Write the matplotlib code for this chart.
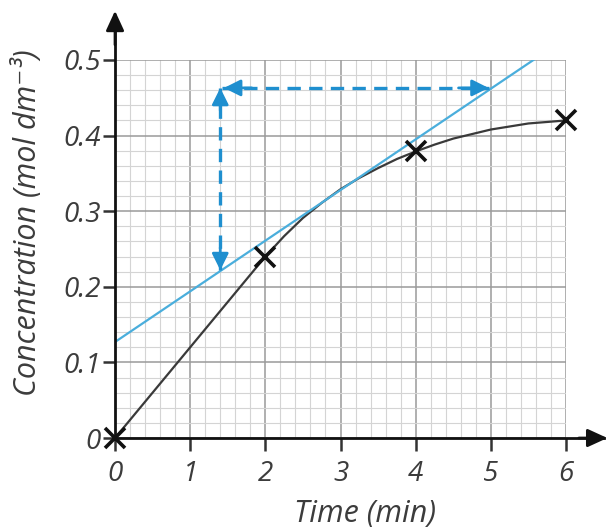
import matplotlib
matplotlib.use('Agg')
import matplotlib.pyplot as plt
import numpy as np

# Measured points (crosses) and the hand-drawn curve through them
time_pts = [0, 2, 4, 6]
conc_pts = [0, 0.24, 0.38, 0.42]
curve_t = [0, 0.5, 1, 1.5, 1.75, 2, 2.25, 2.5, 2.75, 3, 3.25, 3.5, 3.75, 4,
           4.25, 4.5, 4.75, 5, 5.25, 5.5, 5.75, 6]
curve_c = [0, 0.06, 0.12, 0.18, 0.21, 0.24, 0.267, 0.291, 0.311, 0.329, 0.344,
           0.357, 0.369, 0.379, 0.388, 0.396, 0.402, 0.408, 0.412, 0.416, 0.418, 0.420]
# Tangent at t = 3 min
tangent_t = [0, 6]
tangent_c = [0.127, 0.529]
# Dashed construction lines (rise / run)
rise_t = [1.4, 1.4]
rise_c = [0.222, 0.463]
run_t = [1.42, 4.97]
run_c = [0.463, 0.463]

x_ticks = [0, 1, 2, 3, 4, 5, 6]
y_ticks = [0, 0.1, 0.2, 0.3, 0.4, 0.5]
y_tick_labels = ['0', '0.1', '0.2', '0.3', '0.4', '0.5']

txt_col = '#3c3c3c'
blue = '#1f8fcf'
light_blue = '#4aaedc'
font = ['Open Sans', 'DejaVu Sans']

fig = plt.figure(figsize=(6.07, 5.31), dpi=100)
ax = fig.add_axes([0.1895, 0.1751, 0.743, 0.712])
ax.set_xlim(0, 6)
ax.set_ylim(0, 0.5)

# Graph paper grid
ax.set_xticks(np.arange(0, 6.01, 0.2), minor=True)
ax.set_yticks(np.arange(0, 0.501, 0.02), minor=True)
ax.set_xticks(x_ticks)
ax.set_yticks(y_ticks)
ax.grid(which='minor', color='#d4d4d4', lw=0.8)
ax.grid(which='major', color='#9a9a9a', lw=1.1)
ax.set_axisbelow(True)
for s in ax.spines.values():
    s.set_visible(False)
ax.tick_params(which='minor', length=0)
ax.tick_params(which='major', direction='out', length=9, width=1.8, color='#333333',
               labelcolor=txt_col, labelsize=20)
ax.tick_params(axis='x', pad=7)
ax.tick_params(axis='y', pad=1)
ax.set_yticklabels(y_tick_labels)
for lab in ax.get_xticklabels() + ax.get_yticklabels():
    lab.set_fontstyle('italic')
    lab.set_family(font)

# Axis lines with arrows
ax.plot([0, 6.5], [0, 0], color='#111111', lw=2, clip_on=False, zorder=5)
ax.plot([0, 0], [0, 0.555], color='#111111', lw=2, clip_on=False, zorder=5)
ax.annotate('', xy=(6.55, 0), xytext=(6.17, 0), annotation_clip=False,
            arrowprops=dict(arrowstyle='-|>,head_length=1.2,head_width=0.55',
                            color='#111111', lw=2, shrinkA=0, shrinkB=0))
ax.annotate('', xy=(0, 0.565), xytext=(0, 0.52), annotation_clip=False,
            arrowprops=dict(arrowstyle='-|>,head_length=1.2,head_width=0.55',
                            color='#111111', lw=2, shrinkA=0, shrinkB=0))

# Curve, tangent and points
ax.plot(curve_t, curve_c, color='#3a3a3a', lw=1.6, zorder=4)
ax.plot(tangent_t, tangent_c, color=light_blue, lw=1.6, zorder=4)
ax.plot(time_pts, conc_pts, ls='none', marker='x', ms=14, mew=2.6,
        color='#111111', clip_on=False, zorder=6)

# Dashed construction arrows
ax.plot(rise_t, rise_c, color=blue, lw=2.4, ls=(0, (4, 2.5)), zorder=5)
ax.plot(run_t, run_c, color=blue, lw=2.4, ls=(0, (4, 2.5)), zorder=5)
head = dict(arrowstyle='-|>,head_length=1.0,head_width=0.5', color=blue, lw=2,
            shrinkA=0, shrinkB=0)
ax.annotate('', xy=(rise_t[0], rise_c[0]), xytext=(rise_t[0], rise_c[0] + 0.03), arrowprops=head)
ax.annotate('', xy=(rise_t[1], rise_c[1]), xytext=(rise_t[1], rise_c[1] - 0.03), arrowprops=head)
ax.annotate('', xy=(run_t[0] + 0.03, run_c[0]), xytext=(run_t[0] + 0.4, run_c[0]), arrowprops=head)
ax.annotate('', xy=(run_t[1], run_c[1]), xytext=(run_t[1] - 0.4, run_c[1]), arrowprops=head)

ax.set_xlabel('Time (min)', fontsize=22, style='italic', family=font, color=txt_col)
ax.set_ylabel('Concentration (mol dm⁻³)', fontsize=22, style='italic',
              family=font, color=txt_col)
ax.xaxis.set_label_coords(0.555, -0.16)
ax.yaxis.set_label_coords(-0.16, 0.57)

fig.savefig('out.png', dpi=100)
